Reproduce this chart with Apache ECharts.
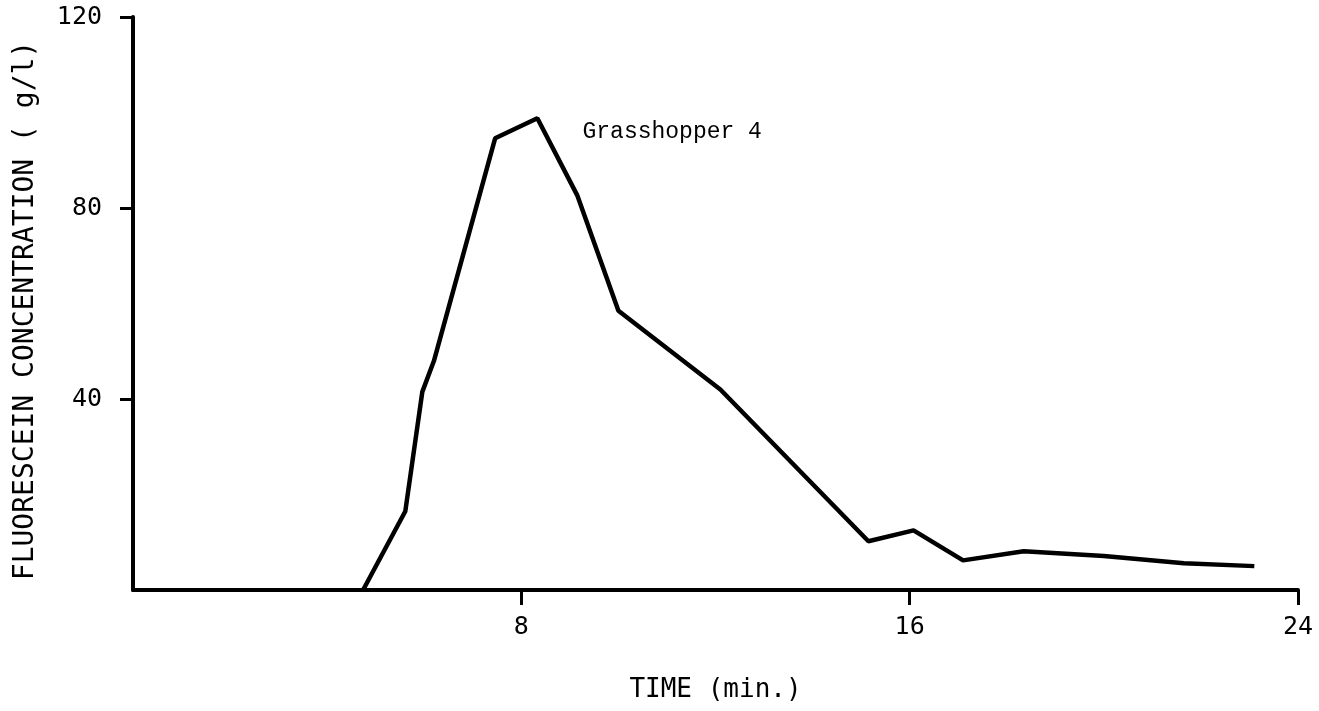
<!DOCTYPE html>
<html>
<head>
<meta charset="utf-8">
<script src="https://cdn.jsdelivr.net/npm/echarts@6/dist/echarts.min.js"></script>
<style>
  html,body{margin:0;padding:0;background:#fff;}
  #main{width:1319px;height:711px;}
</style>
</head>
<body>
<div id="main"></div>
<script>
// time in minutes, fluorescein concentration
var times = [4.74, 5.61, 5.96, 6.2, 7.46, 8.33, 9.15, 10.0, 12.1, 15.15, 16.08, 17.1, 18.35, 20.0, 21.65, 23.1];
var conc  = [0, 16.5, 41.5, 48, 94.6, 98.8, 82.7, 58.5, 42, 10.2, 12.5, 6.2, 8.1, 7.1, 5.6, 5];
var xTicks = [8, 16, 24];
var yTicks = [40, 80, 120];
var seriesName = 'Grasshopper 4';
var labelAt = [9.26, 96];

var pts = [];
for (var i = 0; i < times.length; i++) {
  pts.push([times[i], conc[i]]);
}

var myChart = echarts.init(document.getElementById('main'));
var monoFont = '"DejaVu Sans Mono", "Liberation Mono", monospace';
var option = {
  animation: false,
  backgroundColor: '#fff',
  grid: {left: 133, right: 21, top: 17, bottom: 121, containLabel: false},
  xAxis: {
    type: 'value',
    min: 0, max: 24, interval: 8,
    name: 'TIME (min.)',
    nameLocation: 'middle',
    nameGap: 87,
    nameTextStyle: {color: '#000', fontSize: 26, fontFamily: monoFont},
    axisLine: {lineStyle: {color: '#000', width: 4}},
    axisTick: {show: true, length: 15, customValues: xTicks, lineStyle: {color: '#000', width: 3}},
    axisLabel: {customValues: xTicks, margin: 25, color: '#000', fontSize: 25, fontFamily: monoFont},
    splitLine: {show: false}
  },
  yAxis: {
    type: 'value',
    min: 0, max: 120, interval: 40,
    name: 'FLUORESCEIN CONCENTRATION ( g/l)',
    nameLocation: 'middle',
    nameGap: 93,
    nameTextStyle: {color: '#000', fontSize: 28, fontFamily: monoFont, padding: [0, 14, 0, 0]},
    axisLine: {lineStyle: {color: '#000', width: 4}},
    axisTick: {show: true, length: 13, customValues: yTicks, lineStyle: {color: '#000', width: 3}},
    axisLabel: {customValues: yTicks, margin: 31, color: '#000', fontSize: 25, fontFamily: monoFont},
    splitLine: {show: false}
  },
  series: [{
    name: seriesName,
    type: 'line',
    data: pts,
    symbol: 'none',
    lineStyle: {color: '#000', width: 4.5},
    markPoint: {
      symbol: 'circle',
      symbolSize: 0,
      label: {
        show: true,
        position: 'right',
        distance: 0,
        formatter: seriesName,
        color: '#000',
        fontSize: 23,
        fontFamily: '"Liberation Mono", monospace'
      },
      data: [{coord: labelAt}]
    }
  }]
};
myChart.setOption(option);
</script>
</body>
</html>
